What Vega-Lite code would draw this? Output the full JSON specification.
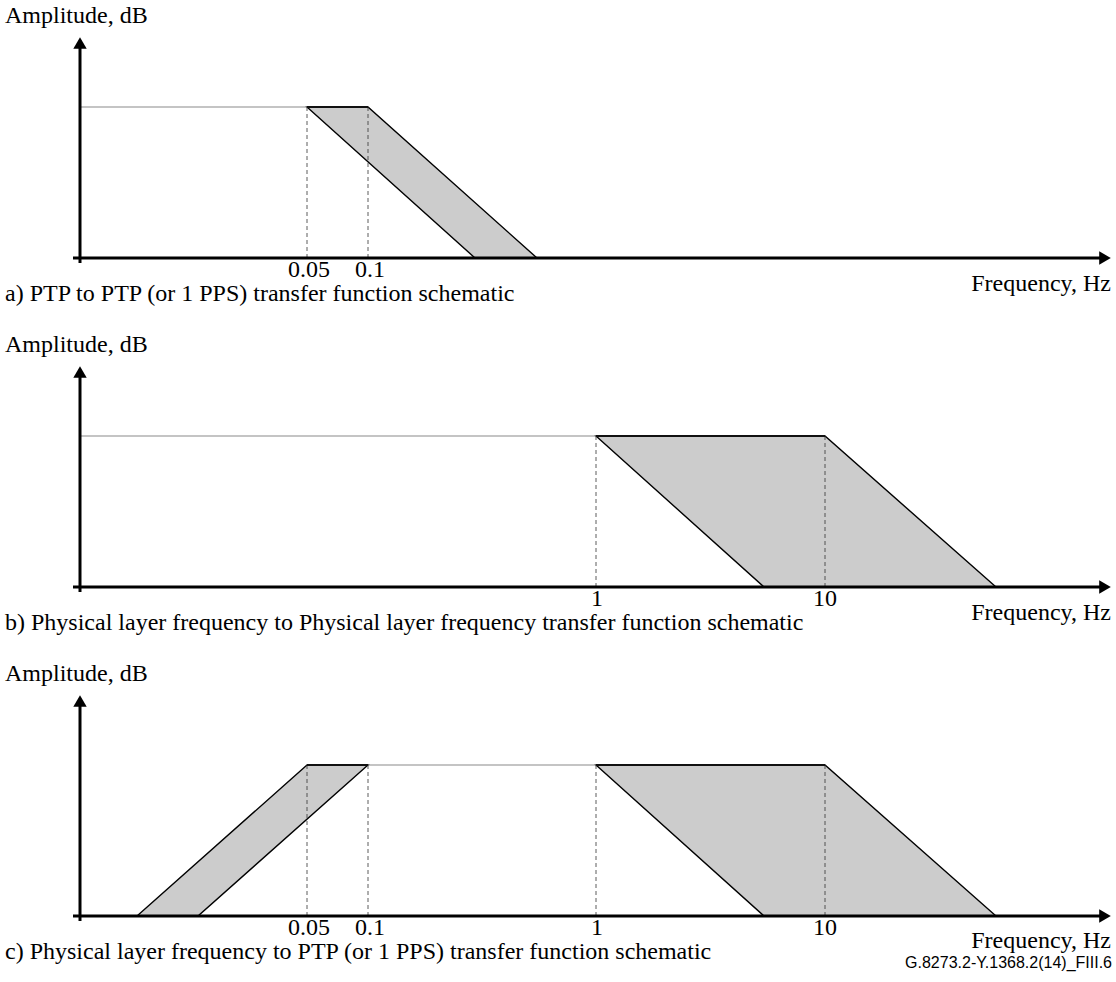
{
  "$schema": "https://vega.github.io/schema/vega-lite/v6.json",
  "width": 1116,
  "height": 982,
  "padding": 0,
  "autosize": {"type": "fit", "contains": "padding"},
  "background": "white",
  "config": {"view": {"stroke": null}},
  "datasets": {
    "bands": [
      {"grp": "a1", "y": 107, "x": 307, "x2": 368},
      {"grp": "a1", "y": 258, "x": 475, "x2": 537},
      {"grp": "b1", "y": 436, "x": 596, "x2": 825},
      {"grp": "b1", "y": 587, "x": 764, "x2": 996},
      {"grp": "c1", "y": 765, "x": 307, "x2": 368},
      {"grp": "c1", "y": 916, "x": 137, "x2": 198},
      {"grp": "c2", "y": 765, "x": 596, "x2": 825},
      {"grp": "c2", "y": 916, "x": 764, "x2": 996}
    ],
    "lines": [
      {"kind": "thin", "x": 80, "x2": 307, "y": 107, "y2": 107},
      {"kind": "thick", "x": 307, "x2": 368, "y": 107, "y2": 107},
      {"kind": "dash", "x": 307, "x2": 307, "y": 107, "y2": 258},
      {"kind": "dash", "x": 368, "x2": 368, "y": 107, "y2": 258},
      {"kind": "axis", "x": 80, "x2": 80, "y": 263, "y2": 47},
      {"kind": "axis", "x": 73, "x2": 1100, "y": 258, "y2": 258},

      {"kind": "thin", "x": 80, "x2": 596, "y": 436, "y2": 436},
      {"kind": "thick", "x": 596, "x2": 825, "y": 436, "y2": 436},
      {"kind": "dash", "x": 596, "x2": 596, "y": 436, "y2": 587},
      {"kind": "dash", "x": 825, "x2": 825, "y": 436, "y2": 587},
      {"kind": "axis", "x": 80, "x2": 80, "y": 592, "y2": 376},
      {"kind": "axis", "x": 73, "x2": 1100, "y": 587, "y2": 587},

      {"kind": "thin", "x": 368, "x2": 596, "y": 765, "y2": 765},
      {"kind": "thick", "x": 307, "x2": 368, "y": 765, "y2": 765},
      {"kind": "thick", "x": 596, "x2": 825, "y": 765, "y2": 765},
      {"kind": "dash", "x": 307, "x2": 307, "y": 765, "y2": 916},
      {"kind": "dash", "x": 368, "x2": 368, "y": 765, "y2": 916},
      {"kind": "dash", "x": 596, "x2": 596, "y": 765, "y2": 916},
      {"kind": "dash", "x": 825, "x2": 825, "y": 765, "y2": 916},
      {"kind": "axis", "x": 80, "x2": 80, "y": 921, "y2": 705},
      {"kind": "axis", "x": 73, "x2": 1100, "y": 916, "y2": 916}
    ],
    "arrows": [
      {"shape": "triangle-up", "x": 80, "y": 43},
      {"shape": "triangle-right", "x": 1105, "y": 258},
      {"shape": "triangle-up", "x": 80, "y": 372},
      {"shape": "triangle-right", "x": 1105, "y": 587},
      {"shape": "triangle-up", "x": 80, "y": 701},
      {"shape": "triangle-right", "x": 1105, "y": 916}
    ],
    "texts": [
      {"kind": "left", "x": 5, "y": 23, "text": "Amplitude, dB"},
      {"kind": "center", "x": 309, "y": 277, "text": "0.05"},
      {"kind": "center", "x": 370, "y": 277, "text": "0.1"},
      {"kind": "right", "x": 1111, "y": 291, "text": "Frequency, Hz"},
      {"kind": "left", "x": 5, "y": 301, "text": "a) PTP to PTP (or 1 PPS) transfer function schematic"},

      {"kind": "left", "x": 5, "y": 352, "text": "Amplitude, dB"},
      {"kind": "center", "x": 597, "y": 606, "text": "1"},
      {"kind": "center", "x": 825, "y": 606, "text": "10"},
      {"kind": "right", "x": 1111, "y": 620, "text": "Frequency, Hz"},
      {"kind": "left", "x": 5, "y": 630, "text": "b) Physical layer frequency to Physical layer frequency transfer function schematic"},

      {"kind": "left", "x": 5, "y": 681, "text": "Amplitude, dB"},
      {"kind": "center", "x": 309, "y": 935, "text": "0.05"},
      {"kind": "center", "x": 370, "y": 935, "text": "0.1"},
      {"kind": "center", "x": 597, "y": 935, "text": "1"},
      {"kind": "center", "x": 825, "y": 935, "text": "10"},
      {"kind": "right", "x": 1111, "y": 948, "text": "Frequency, Hz"},
      {"kind": "left", "x": 5, "y": 959, "text": "c) Physical layer frequency to PTP (or 1 PPS) transfer function schematic"}
    ],
    "footer": [
      {"x": 1112, "y": 968, "text": "G.8273.2-Y.1368.2(14)_FIII.6"}
    ]
  },
  "encoding": {
    "x": {"field": "x", "type": "quantitative", "scale": {"domain": [0, 1116], "nice": false, "zero": false}, "axis": null},
    "y": {"field": "y", "type": "quantitative", "scale": {"domain": [0, 982], "nice": false, "zero": false, "reverse": true}, "axis": null}
  },
  "layer": [
    {
      "data": {"name": "bands"},
      "mark": {"type": "area", "orient": "horizontal", "fill": "#cccccc", "stroke": "#000000", "strokeWidth": 1.4},
      "encoding": {
        "x2": {"field": "x2"},
        "detail": {"field": "grp"}
      }
    },
    {
      "data": {"name": "lines"},
      "transform": [{"filter": "datum.kind === 'thin'"}],
      "mark": {"type": "rule", "stroke": "#8a8a8a", "strokeWidth": 1.2},
      "encoding": {"x2": {"field": "x2"}, "y2": {"field": "y2"}}
    },
    {
      "data": {"name": "lines"},
      "transform": [{"filter": "datum.kind === 'dash'"}],
      "mark": {"type": "rule", "stroke": "#333333", "strokeWidth": 0.8, "strokeDash": [4, 3]},
      "encoding": {"x2": {"field": "x2"}, "y2": {"field": "y2"}}
    },
    {
      "data": {"name": "lines"},
      "transform": [{"filter": "datum.kind === 'thick'"}],
      "mark": {"type": "rule", "stroke": "#111111", "strokeWidth": 2.2},
      "encoding": {"x2": {"field": "x2"}, "y2": {"field": "y2"}}
    },
    {
      "data": {"name": "lines"},
      "transform": [{"filter": "datum.kind === 'axis'"}],
      "mark": {"type": "rule", "stroke": "#000000", "strokeWidth": 3},
      "encoding": {"x2": {"field": "x2"}, "y2": {"field": "y2"}}
    },
    {
      "data": {"name": "arrows"},
      "mark": {"type": "point", "filled": true, "fill": "#000000", "stroke": null, "size": 180, "opacity": 1},
      "encoding": {
        "shape": {"field": "shape", "type": "nominal", "scale": null}
      }
    },
    {
      "data": {"name": "texts"},
      "transform": [{"filter": "datum.kind === 'left'"}],
      "mark": {"type": "text", "align": "left", "baseline": "alphabetic", "font": "Liberation Serif", "fontSize": 24, "fill": "#000000"},
      "encoding": {"text": {"field": "text"}}
    },
    {
      "data": {"name": "texts"},
      "transform": [{"filter": "datum.kind === 'center'"}],
      "mark": {"type": "text", "align": "center", "baseline": "alphabetic", "font": "Liberation Serif", "fontSize": 24, "fill": "#000000"},
      "encoding": {"text": {"field": "text"}}
    },
    {
      "data": {"name": "texts"},
      "transform": [{"filter": "datum.kind === 'right'"}],
      "mark": {"type": "text", "align": "right", "baseline": "alphabetic", "font": "Liberation Serif", "fontSize": 24, "fill": "#000000"},
      "encoding": {"text": {"field": "text"}}
    },
    {
      "data": {"name": "footer"},
      "mark": {"type": "text", "align": "right", "baseline": "alphabetic", "font": "Liberation Sans", "fontSize": 16, "fill": "#000000"},
      "encoding": {"text": {"field": "text"}}
    }
  ]
}
